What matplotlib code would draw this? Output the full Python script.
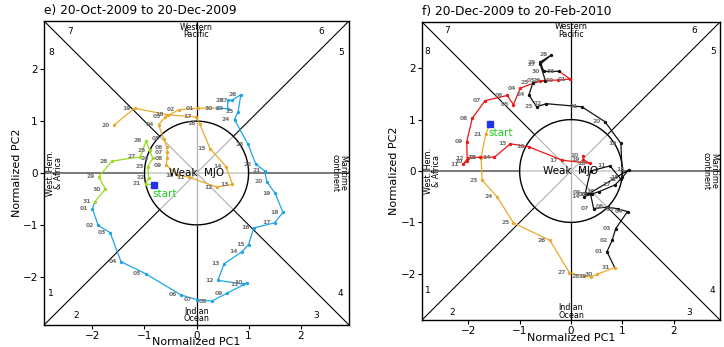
import numpy as np
import matplotlib
matplotlib.use("Agg")
import matplotlib.pyplot as plt

# ---- panel e) 20-Oct-2009 to 20-Dec-2009 ----
e_oct_days = list(range(20, 32))
e_oct_x = [-0.82, -0.98, -0.92, -0.94, -0.84, -0.90, -0.97, -1.08, -1.62, -1.88, -1.75, -1.95]
e_oct_y = [-0.23, -0.21, -0.09, 0.12, 0.28, 0.44, 0.62, 0.31, 0.23, -0.07, -0.31, -0.55]

e_nov_days = list(range(1, 31))
e_nov_x = [-2.00, -1.89, -1.66, -1.45, -0.98, -0.30, 0.00, 0.29, 0.58, 0.97,
           0.90, 0.41, 0.53, 0.87, 1.00, 1.10, 1.50, 1.66, 1.51, 1.35,
           1.31, 1.14, 0.99, 0.73, 0.80, 0.85, 0.68, 0.60, 0.60, 0.39]
e_nov_y = [-0.69, -1.01, -1.15, -1.71, -1.94, -2.35, -2.44, -2.47, -2.32, -2.12,
           -2.14, -2.07, -1.75, -1.52, -1.38, -1.06, -0.96, -0.76, -0.39, -0.17,
           0.04, 0.17, 0.55, 1.03, 1.18, 1.51, 1.40, 1.40, 1.24, 1.25]

e_dec_days = list(range(1, 21))
e_dec_x = [0.03, -0.34, -0.60, -0.73, -0.63, -0.57, -0.56, -0.57, -0.58, -0.36,
           -0.15, 0.39, 0.69, 0.57, 0.26, 0.06, -0.01, -0.55, -1.19, -1.59]
e_dec_y = [1.25, 1.22, 1.08, 0.93, 0.66, 0.50, 0.40, 0.28, 0.15, -0.04,
           -0.08, -0.27, -0.22, 0.12, 0.47, 0.95, 1.08, 1.12, 1.25, 0.92]

# ---- panel f) 20-Dec-2009 to 20-Feb-2010 ----
f_dec_days = list(range(20, 32))
f_dec_x = [-1.58, -1.66, -1.75, -1.73, -1.44, -1.12, -0.41, -0.03, 0.25, 0.38, 0.51, 0.85]
f_dec_y = [0.91, 0.72, 0.26, -0.18, -0.50, -1.01, -1.35, -1.98, -2.05, -2.06, -2.01, -1.88]

f_jan_days = list(range(1, 32))
f_jan_x = [0.70, 0.80, 0.87, 1.10, 0.92, 0.72, 0.44, 0.38, 0.28, 0.38,
           0.76, 0.97, 1.12, 0.25, 0.40, 0.55, 0.86, 1.00, 0.97, 0.66,
           0.21, -0.48, -0.67, -0.82, -0.74, -0.50, -0.60, -0.38, -0.60, -0.53,
           -0.23]
f_jan_y = [-1.57, -1.35, -1.12, -0.79, -0.74, -0.70, -0.73, -0.45, -0.42, 0.00,
           0.10, -0.16, 0.02, -0.50, -0.45, -0.40, -0.27, -0.12, 0.54, 0.96,
           1.25, 1.31, 1.25, 1.48, 1.72, 1.76, 2.08, 2.26, 2.12, 1.94,
           1.94]

f_feb_days = list(range(1, 21))
f_feb_x = [-0.02, -0.25, -0.61, -0.99, -1.12, -1.24, -1.67, -1.92, -2.03, -2.02,
           -2.10, -2.00, -1.77, -1.49, -1.18, -0.82, -0.17, 0.36, 0.24, 0.24]
f_feb_y = [1.79, 1.77, 1.76, 1.61, 1.29, 1.47, 1.37, 1.03, 0.57, 0.19,
           0.13, 0.25, 0.27, 0.27, 0.53, 0.47, 0.21, 0.15, 0.22, 0.30]

GREEN = "#99dd22"
BLUE = "#1ea5e8"
ORANGE = "#eaa92a"
BLACK = "#111111"
RED = "#ee1515"


def draw_frame(ax, lim, title, xlab_y, ylab_x):
    ax.set_xlim(-lim, lim)
    ax.set_ylim(-lim, lim)
    c = np.cos(np.pi / 4)
    # lines outside the unit circle
    for sx, sy in [(1, 1), (1, -1), (-1, 1), (-1, -1)]:
        ax.plot([sx * c, sx * lim], [sy * c, sy * lim], color="k", lw=0.8, zorder=1)
    ax.plot([0, 0], [1, lim], color="k", lw=0.9, zorder=1)
    ax.plot([0, 0], [-1, -lim], color="k", lw=0.9, zorder=1)
    ax.plot([1, lim], [0, 0], color="#555555", lw=1.1, zorder=1)
    ax.plot([-1, -lim], [0, 0], color="#555555", lw=1.1, zorder=1)
    # lines inside
    ax.plot([-c, c], [-c, c], color="#b0b0b0", lw=0.8, zorder=1)
    ax.plot([-c, c], [c, -c], color="#b0b0b0", lw=0.8, zorder=1)
    ax.plot([0, 0], [-1, 1], color="#b0b0b0", lw=0.9, zorder=1)
    ax.plot([-1, 1], [0, 0], color="#c8c8c8", lw=1.1, zorder=1)
    t = np.linspace(0, 2 * np.pi, 300)
    ax.plot(np.cos(t), np.sin(t), color="k", lw=1.0, zorder=2)

    # phase numbers
    for txt, x, y in [("7", -2.42, 2.73), ("8", -2.79, 2.32), ("6", 2.39, 2.73),
                      ("5", 2.77, 2.32), ("1", -2.79, -2.33), ("2", -2.32, -2.75),
                      ("3", 2.29, -2.75), ("4", 2.76, -2.33)]:
        ax.text(x, y, txt, fontsize=6.5, ha="center", va="center", zorder=5)

    ax.text(0, 2.74, "Western\nPacific", fontsize=5.8, ha="center", va="center",
            linespacing=0.8, zorder=5)
    ax.text(0, -2.74, "Indian\nOcean", fontsize=5.8, ha="center", va="center",
            linespacing=0.8, zorder=5)
    ax.text(-lim + 0.2, 0, "West. Hem.\n& Africa", fontsize=5.8, ha="center",
            va="center", rotation=90, linespacing=0.8, zorder=5)
    ax.text(lim - 0.2, 0, "Maritime\ncontinent", fontsize=5.8, ha="center",
            va="center", rotation=270, linespacing=0.8, zorder=5)
    ax.text(0, 0, "Weak  MJO", fontsize=7.5, ha="center", va="center", zorder=6)

    ax.set_xticks([-2, -1, 0, 1, 2])
    ax.set_yticks([-2, -1, 0, 1, 2])
    ax.tick_params(labelsize=7.5, length=3, width=0.8, direction="out",
                   top=False, right=False, pad=1.5)
    for s in ax.spines.values():
        s.set_linewidth(1.0)
    ax.set_xlabel("Normalized PC1", fontsize=8)
    ax.set_ylabel("Normalized PC2", fontsize=8)
    ax.xaxis.set_label_coords(0.5, xlab_y)
    ax.yaxis.set_label_coords(ylab_x, 0.5)
    ax.set_title(title, fontsize=8.8, loc="left", pad=5, x=0.0)


def draw_track(ax, xs, ys, days, color, prev=None, label_first=True):
    px = list(xs)
    py = list(ys)
    if prev is not None:
        px = [prev[0]] + px
        py = [prev[1]] + py
    ax.plot(px, py, color=color, lw=0.9, zorder=3)
    ax.plot(xs, ys, "o", color=color, ms=1.4, zorder=4)
    for i, (x, y, d) in enumerate(zip(xs, ys, days)):
        if i == 0 and not label_first:
            continue
        ax.annotate("%02d" % d, (x, y), xytext=(-3, 0), textcoords="offset points",
                    ha="right", va="center", fontsize=4.3, color="#707070",
                    fontweight="bold", zorder=5)


def draw_start(ax, x, y):
    ax.plot([x], [y], "s", color="#2233ee", ms=4, zorder=6)
    ax.text(x - 0.03, y - 0.08, "start", color="#22cc22", fontsize=7.5,
            ha="left", va="top", zorder=6)


fig = plt.figure(figsize=(7.24, 3.47), dpi=100)

ax1 = fig.add_axes([0.0608, 0.0634, 0.4213, 0.8761])
draw_frame(ax1, 2.93, "e) 20-Oct-2009 to 20-Dec-2009", -0.038, -0.072)
draw_track(ax1, e_oct_x, e_oct_y, e_oct_days, GREEN, label_first=False)
draw_track(ax1, e_nov_x, e_nov_y, e_nov_days, BLUE, prev=(e_oct_x[-1], e_oct_y[-1]))
draw_track(ax1, e_dec_x, e_dec_y, e_dec_days, ORANGE, prev=(e_nov_x[-1], e_nov_y[-1]))
draw_start(ax1, e_oct_x[0], e_oct_y[0])

ax2 = fig.add_axes([0.5829, 0.0778, 0.4116, 0.8588])
draw_frame(ax2, 2.9, "f) 20-Dec-2009 to 20-Feb-2010", -0.045, -0.078)
draw_track(ax2, f_dec_x, f_dec_y, f_dec_days, ORANGE, label_first=False)
draw_track(ax2, f_jan_x, f_jan_y, f_jan_days, BLACK, prev=(f_dec_x[-1], f_dec_y[-1]))
draw_track(ax2, f_feb_x, f_feb_y, f_feb_days, RED, prev=(f_jan_x[-1], f_jan_y[-1]))
draw_start(ax2, f_dec_x[0], f_dec_y[0])

fig.savefig("out.png", dpi=100)
